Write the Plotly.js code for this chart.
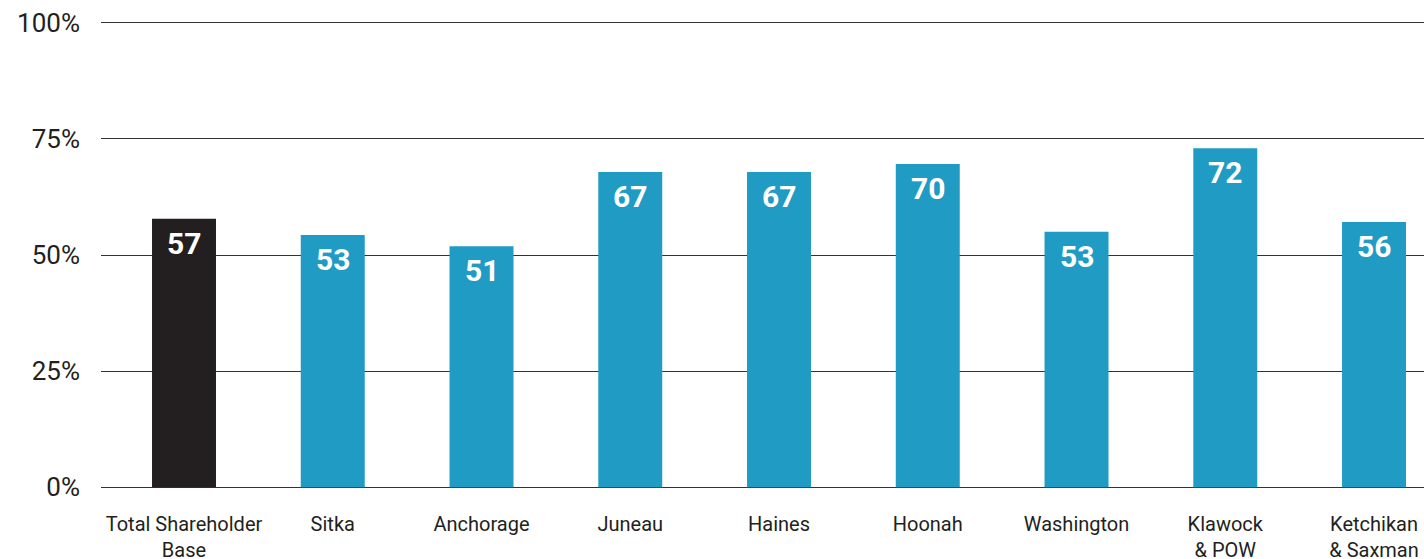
<!DOCTYPE html>
<html>
<head>
<meta charset="utf-8">
<script src="https://cdn.plot.ly/plotly-3.0.1.min.js"></script>
<style>
  html, body { margin: 0; padding: 0; background: #fff; }
  #chart { width: 1424px; height: 559px; }
</style>
</head>
<body>
<div id="chart"></div>
<script>
// Categories and values
const regions = ["Total Shareholder<br>Base", "Sitka", "Anchorage", "Juneau", "Haines",
  "Hoonah", "Washington", "Klawock<br>& POW", "Ketchikan<br>& Saxman"];
const barHeights = [57.8, 54.3, 51.9, 67.9, 67.9, 69.6, 55.0, 73.0, 57.1];
const barLabels = ["57", "53", "51", "67", "67", "70", "53", "72", "56"];
const yTicks = [0, 25, 50, 75, 100];

const barColors = regions.map((r, i) => (i === 0 ? "#231f20" : "#209bc4"));

const trace = {
  x: regions,
  y: barHeights,
  type: "bar",
  width: 0.43,
  marker: { color: barColors },
  hoverinfo: "none",
};

// Value labels inside the top of each bar
const labelNotes = regions.map((r, i) => ({
  x: r,
  y: barHeights[i],
  text: "<b>" + barLabels[i] + "</b>",
  showarrow: false,
  yanchor: "top",
  yshift: -5,
  font: { family: "Roboto, sans-serif", size: 30, color: "#ffffff" },
}));

const layout = {
  width: 1424,
  height: 559,
  // range padded a little so the 0% and 100% gridlines still get drawn
  margin: { l: 101, r: 0, t: 21, b: 70 },
  paper_bgcolor: "#ffffff",
  plot_bgcolor: "#ffffff",
  showlegend: false,
  font: { family: "Roboto, sans-serif", color: "#231f20" },
  xaxis: {
    type: "category",
    range: [-0.558, 8.336],
    showgrid: false,
    zeroline: false,
    showline: false,
    ticks: "",
    ticklabelstandoff: 21,
    tickfont: { size: 20, color: "#231f20" },
  },
  yaxis: {
    range: [-0.4, 100.4],
    tickvals: yTicks,
    ticktext: yTicks.map((v) => v + "%"),
    showgrid: true,
    gridcolor: "#333333",
    gridwidth: 1.4,
    zeroline: false,
    showline: false,
    ticks: "",
    ticklabelstandoff: 20,
    tickfont: { size: 26, color: "#231f20" },
  },
  annotations: labelNotes,
};

Plotly.newPlot("chart", [trace], layout, { displayModeBar: false });
</script>
</body>
</html>
